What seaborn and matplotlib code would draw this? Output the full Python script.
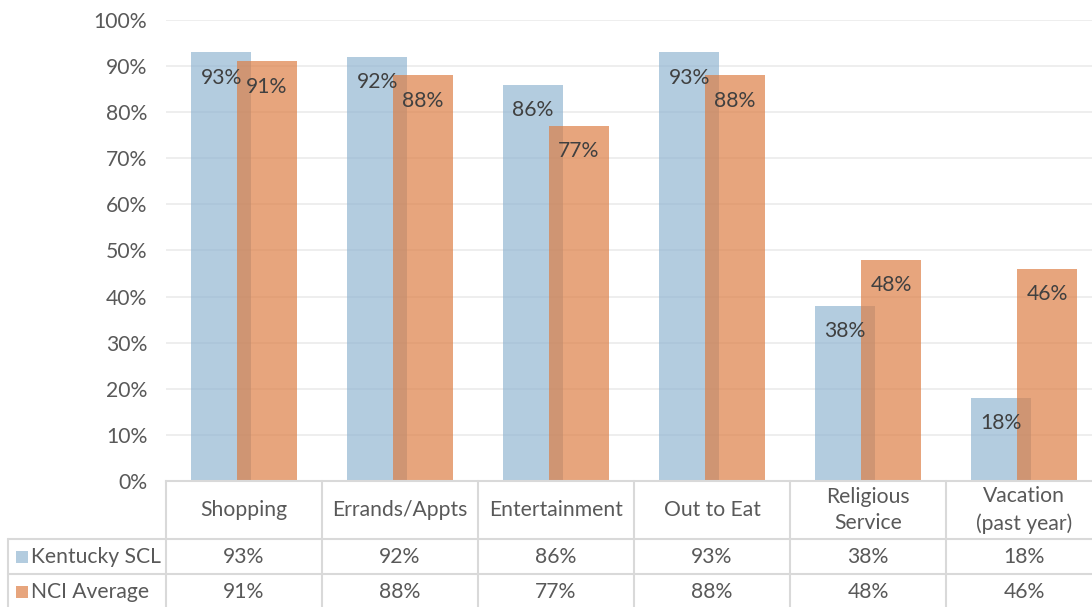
import matplotlib
matplotlib.use("Agg")
import matplotlib.pyplot as plt
import matplotlib.patches as mpatches
from matplotlib.transforms import blended_transform_factory
from matplotlib.ticker import PercentFormatter, MultipleLocator
import seaborn as sns
import pandas as pd

# Data
categories = ["Shopping", "Errands/Appts", "Entertainment", "Out to Eat",
              "Religious\nService", "Vacation\n(past year)"]
series_names = ["Kentucky SCL", "NCI Average"]
kentucky_scl = [93, 92, 86, 93, 38, 18]
nci_average = [91, 88, 77, 88, 48, 46]

colors = ["#8FB4D1", "#DD7B40"]
ALPHA = 0.68
TEXT = "#595959"
LINE = "#D9D9D9"
FS = 15.2

sns.set_style("white")
plt.rcParams["font.family"] = ["Lato", "DejaVu Sans"]

df = pd.DataFrame({
    "activity": categories * 2,
    "series": [series_names[0]] * len(categories) + [series_names[1]] * len(categories),
    "share": [v / 100 for v in kentucky_scl + nci_average],
})

fig = plt.figure(figsize=(10.92, 6.07), dpi=100)
W, H = 1092, 607
ax_left, ax_right, ax_top, ax_bottom = 166, 1102, 20, 481
ax = fig.add_axes([ax_left / W, (H - ax_bottom) / H,
                   (ax_right - ax_left) / W, (ax_bottom - ax_top) / H])

sns.barplot(data=df, x="activity", y="share", hue="series", order=categories,
            hue_order=series_names, palette=colors, width=0.588, gap=-0.327,
            alpha=ALPHA, legend=False, ax=ax, linewidth=0, saturation=1)

ax.set_xlim(-0.5, len(categories) - 0.5)
ax.set_ylim(0, 1)
ax.yaxis.set_major_locator(MultipleLocator(0.1))
ax.yaxis.set_major_formatter(PercentFormatter(1.0, decimals=0))
ax.tick_params(axis="y", length=0, pad=13.5, labelsize=FS, labelcolor=TEXT)
ax.set_xticks([])
ax.set_xlabel("")
ax.set_ylabel("")
ax.grid(axis="y", color="#EBEBEB", linewidth=1.2)
ax.set_axisbelow(True)
for side in ["top", "right", "left"]:
    ax.spines[side].set_visible(False)
ax.spines["bottom"].set_color(LINE)
ax.spines["bottom"].set_linewidth(1.5)

# Value labels inside the top of each bar
for container, vals in zip(ax.containers, [kentucky_scl, nci_average]):
    ax.bar_label(container, labels=[f"{v}%" for v in vals], padding=-25.5,
                 fontsize=FS, color="#404040")

# Data table beneath the plot
px = ax_bottom - ax_top
def yfrac(ypix):
    return (ax_bottom - ypix) / px

trans = blended_transform_factory(ax.transData, ax.transAxes)
row_lines = [539, 574, 609]
legend_left = -0.5 - (ax_left - 8) / 156

line_kw = dict(color=LINE, linewidth=1.5, transform=trans, clip_on=False)
for i in range(len(categories) + 1):
    ax.plot([i - 0.5, i - 0.5], [0, yfrac(612)], **line_kw)
ax.plot([legend_left, legend_left], [yfrac(539), yfrac(612)], **line_kw)
for yl in row_lines:
    ax.plot([legend_left, len(categories) - 0.5], [yfrac(yl), yfrac(yl)], **line_kw)

for i, cat in enumerate(categories):
    ax.text(i, yfrac(510), cat, ha="center", va="center", fontsize=FS,
            color=TEXT, transform=trans, linespacing=1.4)

rows = [(series_names[0], kentucky_scl, 557), (series_names[1], nci_average, 592)]
key_x0 = legend_left + 8 / 156
for (name, vals, yc), col in zip(rows, colors):
    ax.add_patch(mpatches.Rectangle((key_x0, yfrac(yc + 6)), 12 / 156, 12 / px,
                                    facecolor=col, alpha=ALPHA, edgecolor="none",
                                    transform=trans, clip_on=False))
    ax.text(key_x0 + 15 / 156, yfrac(yc), name, ha="left", va="center",
            fontsize=FS, color=TEXT, transform=trans)
    for i, v in enumerate(vals):
        ax.text(i, yfrac(yc), f"{v}%", ha="center", va="center", fontsize=FS,
                color=TEXT, transform=trans)

fig.savefig("out.png", dpi=100)
